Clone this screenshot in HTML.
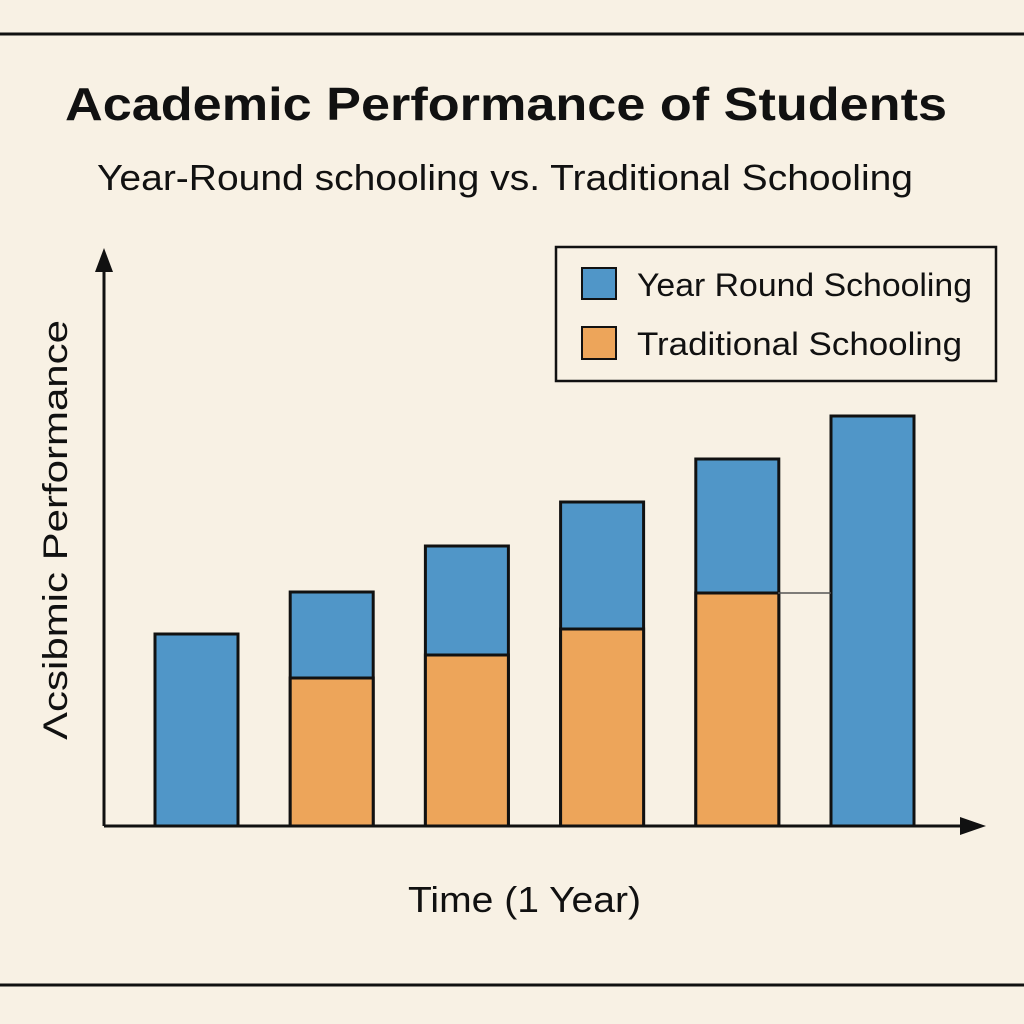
<!DOCTYPE html>
<html><head><meta charset="utf-8"><style>
html,body{margin:0;padding:0;background:#f8f1e4;}
svg{display:block;font-family:"Liberation Sans","DejaVu Sans",sans-serif;}
</style></head><body>
<svg id="chart" width="1024" height="1024" viewBox="0 0 1024 1024">
<rect width="1024" height="1024" fill="#f8f1e4"/>
<line x1="0" y1="34" x2="1024" y2="34" stroke="#111" stroke-width="3"/>
<line x1="0" y1="985" x2="1024" y2="985" stroke="#111" stroke-width="3"/>
<text x="65" y="120" font-size="46" font-weight="bold" fill="#111" textLength="882" lengthAdjust="spacingAndGlyphs">Academic Performance of Students</text>
<text x="97" y="190" font-size="36" fill="#111" textLength="816" lengthAdjust="spacingAndGlyphs">Year-Round schooling vs. Traditional Schooling</text>
<g id="bars"></g>
<line x1="778" y1="593" x2="831" y2="593" stroke="#555" stroke-width="1.5"/>
<line x1="104" y1="826" x2="104" y2="262" stroke="#111" stroke-width="3"/>
<polygon points="104,248 95,272 113,272" fill="#111"/>
<line x1="104" y1="826" x2="970" y2="826" stroke="#111" stroke-width="3"/>
<polygon points="986,826 960,817 960,835" fill="#111"/>
<text transform="translate(67,740) rotate(-90)" font-size="34" fill="#111" textLength="420" lengthAdjust="spacingAndGlyphs">Λcsibmic Performance</text>
<text x="408" y="912" font-size="36" fill="#111" textLength="233" lengthAdjust="spacingAndGlyphs">Time (1 Year)</text>
<g>
<rect x="556" y="247" width="440" height="134" fill="#f8f1e4" stroke="#111" stroke-width="2.5"/>
<rect x="582" y="268" width="34" height="31" fill="#5096c8" stroke="#111" stroke-width="2"/>
<text x="637" y="296" font-size="32" fill="#111" textLength="335" lengthAdjust="spacingAndGlyphs">Year Round Schooling</text>
<rect x="582" y="327" width="34" height="32" fill="#eda55a" stroke="#111" stroke-width="2"/>
<text x="637" y="355" font-size="32" fill="#111" textLength="325" lengthAdjust="spacingAndGlyphs">Traditional Schooling</text>
</g>
</svg>
<script>
const categories = ["Y1","Y2","Y3","Y4","Y5","Y6"];
const yearRound = [192, 234, 280, 324, 367, 410];
const traditional = [0, 148, 171, 197, 233, 0];
const baseY = 826, x0 = 155, step = 135.2, bw = 83;
function xScale(i){ return x0 + i*step; }
function yScale(v){ return baseY - v; }
const g = document.getElementById('bars');
const ns = 'http://www.w3.org/2000/svg';
categories.forEach((c,i)=>{
  const b = document.createElementNS(ns,'rect');
  b.setAttribute('x', xScale(i)); b.setAttribute('y', yScale(yearRound[i]));
  b.setAttribute('width', bw); b.setAttribute('height', yearRound[i]);
  b.setAttribute('fill','#5096c8'); b.setAttribute('stroke','#111'); b.setAttribute('stroke-width','3');
  
  
  g.appendChild(b);
  if (traditional[i] > 0) {
    const o = document.createElementNS(ns,'rect');
    o.setAttribute('x', xScale(i)); o.setAttribute('y', yScale(traditional[i]));
    o.setAttribute('width', bw); o.setAttribute('height', traditional[i]);
    o.setAttribute('fill','#eda55a'); o.setAttribute('stroke','#111'); o.setAttribute('stroke-width','3');
    
    
    g.appendChild(o);
  }
});
</script>
</body></html>
